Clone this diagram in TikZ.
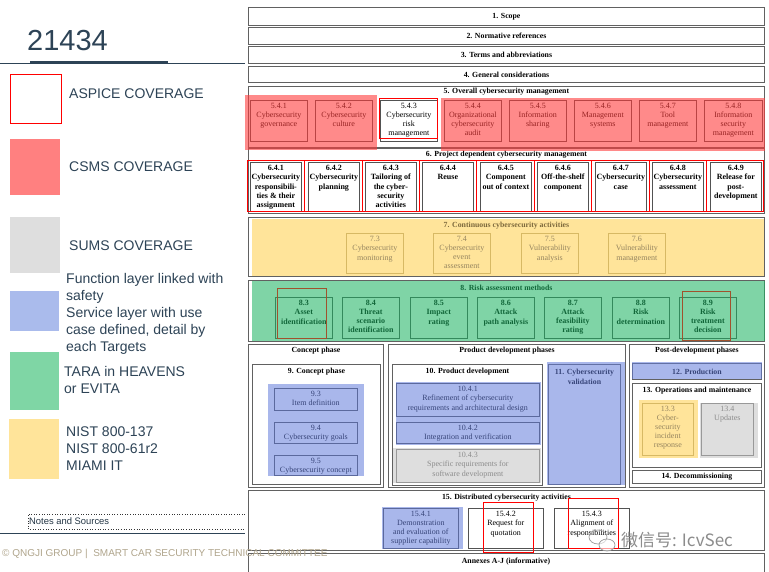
\documentclass[tikz,border=0pt]{standalone}
\usepackage{fontspec}
\setmainfont{Liberation Serif}
\newfontfamily\lsans{Liberation Sans}
\newfontfamily\cjk{Noto Sans CJK SC}
\usetikzlibrary{calc}
\definecolor{slate}{RGB}{45,67,86}
\definecolor{csmsleg}{RGB}{255,128,128}
\definecolor{csmsov}{RGB}{255,60,60}
\definecolor{sumsleg}{RGB}{222,222,222}
\definecolor{bluleg}{RGB}{170,187,236}
\definecolor{bluov}{RGB}{100,125,220}
\definecolor{grnleg}{RGB}{127,214,165}
\definecolor{grnov}{RGB}{30,180,100}
\definecolor{yelleg}{RGB}{255,228,154}
\definecolor{tanline}{RGB}{215,185,100}
\definecolor{tantext}{RGB}{150,133,95}
\definecolor{tanhead}{RGB}{125,105,60}
\definecolor{brownln}{RGB}{160,82,45}
\definecolor{foot}{RGB}{176,165,140}
\tikzset{
  sec/.style={draw=black!62,line width=0.9pt,inner sep=0pt},
  bx/.style={draw=black!68,line width=0.7pt,inner sep=0pt},
  bt/.style={inner sep=0pt,align=center,font=\fontsize{8}{9.3}\selectfont},
  bold/.style={font=\bfseries\fontsize{8}{9.3}\selectfont},
  boldtight/.style={font=\bfseries\fontsize{8}{9}\selectfont},
  tight/.style={font=\fontsize{8}{8.9}\selectfont},
  hd/.style={inner sep=0pt,align=center,font=\bfseries\fontsize{7.8}{9.4}\selectfont},
  leg/.style={inner sep=0pt,anchor=west,align=left,text=slate,font=\lsans\fontsize{14}{17}\selectfont},
  aspice/.style={draw=red,line width=1pt},
  brownbox/.style={draw=brownln,line width=0.9pt},
  fadebox/.style={draw=tanline},
  fadetext/.style={text=tantext},
  graybox/.style={draw=black!40},
  graytext/.style={text=black!45}
}
% box: #1 box opts, #2 text opts, #3 name, #4 x, #5 y, #6 w, #7 h, #8 text
\newcommand\bx[8]{%
  \node[bx,#1,minimum width=#6pt,minimum height=#7pt,anchor=north west] (#3) at (#4,#5) {};
  \node[bt,#2,anchor=north] (#3t) at ([yshift=-3pt]#3.north) {#8};}
\begin{document}
\begin{tikzpicture}[x=1pt,y=-1pt]
\useasboundingbox (0,0) rectangle (769,572);
\fill[white] (0,0) rectangle (769,572);

% ---------------- legend ----------------
\node[inner sep=0pt,anchor=west,text=slate,font=\lsans\fontsize{29}{32}\selectfont] (title) at (27,41) {21434};
\draw[slate,line width=0.8pt] (0,63) -- (245,63);
\fill[slate] (30,61) rectangle (168,64.5);

\draw[aspice] (10,75) rectangle (61,124);
\node[leg] (l1) at (69,94) {ASPICE COVERAGE};
\fill[csmsleg] (10,139) rectangle (60,195);
\node[leg] (l2) at (69,167) {CSMS COVERAGE};
\fill[sumsleg] (10,217) rectangle (60,273);
\node[leg] (l3) at (69,246) {SUMS COVERAGE};
\fill[bluleg] (10,291) rectangle (59,331);
\node[leg] (l4) at (66,313.5) {Function layer linked with\\safety\\Service layer with use\\case defined, detail by\\each Targets};
\fill[grnleg] (10,352) rectangle (59,410);
\node[leg] (l5) at (64,379.5) {TARA in HEAVENS\\or EVITA};
\fill[yelleg] (9,419) rectangle (59,479);
\node[leg] (l6) at (66,448.5) {NIST 800-137\\NIST 800-61r2\\MIAMI IT};

\draw[black!80,dotted,line width=0.6pt] (245,514) -- (28,514) -- (28,529) -- (245,529);
\node[inner sep=0pt,anchor=west,text=slate!80!black,font=\lsans\fontsize{9.4}{11}\selectfont] (notes) at (29,521.5) {Notes and Sources};
\draw[slate,line width=0.9pt] (0,533) -- (245,533);

% ---------------- top rows ----------------
\node[sec,minimum width=516pt,minimum height=18pt,anchor=north west] (s1) at (248,7) {};
\node[hd] (s1t) at (s1.center) {1. Scope};
\node[sec,minimum width=516pt,minimum height=17pt,anchor=north west] (s2) at (248,27) {};
\node[hd] (s2t) at (s2.center) {2. Normative references};
\node[sec,minimum width=516pt,minimum height=17pt,anchor=north west] (s3) at (248,46) {};
\node[hd] (s3t) at (s3.center) {3. Terms and abbreviations};
\node[sec,minimum width=516pt,minimum height=16pt,anchor=north west] (s4) at (248,66) {};
\node[hd] (s4t) at (s4.center) {4. General considerations};

% ---------------- section 5 ----------------
\node[sec,minimum width=516pt,minimum height=61pt,anchor=north west] (s5) at (248,86) {};
\node[hd] (s5t) at ([yshift=-6pt]s5.north) {5. Overall cybersecurity management};
\bx{}{tight}{b541}{250}{100}{57}{41}{5.4.1\\Cybersecurity\\governance}
\bx{}{tight}{b542}{315}{100}{57}{41}{5.4.2\\Cybersecurity\\culture}
\bx{}{tight}{b543}{380}{100}{57}{41}{5.4.3\\Cybersecurity\\risk\\management}
\bx{}{tight}{b544}{444}{100}{57}{41}{5.4.4\\Organizational\\cybersecurity\\audit}
\bx{}{tight}{b545}{509}{100}{57}{41}{5.4.5\\Information\\sharing}
\bx{}{tight}{b546}{574}{100}{57}{41}{5.4.6\\Management\\systems}
\bx{}{tight}{b547}{639}{100}{57}{41}{5.4.7\\Tool\\management}
\bx{}{tight}{b548}{704}{100}{58}{41}{5.4.8\\Information\\security\\management}

% ---------------- section 6 ----------------
\node[sec,minimum width=516pt,minimum height=65pt,anchor=north west] (s6) at (248,148) {};
\node[hd] (s6t) at ([yshift=-7pt]s6.north) {6. Project dependent cybersecurity management};
\bx{}{bold}{b641}{250}{162}{51}{49}{6.4.1\\Cybersecurity\\responsibili-\\ties \& their\\assignment}
\bx{}{bold}{b642}{308}{162}{51}{49}{6.4.2\\Cybersecurity\\planning}
\bx{}{bold}{b643}{365}{162}{51}{49}{6.4.3\\Tailoring of\\the cyber-\\security\\activities}
\bx{}{bold}{b644}{422}{162}{51}{49}{6.4.4\\Reuse}
\bx{}{bold}{b645}{480}{162}{51}{49}{6.4.5\\Component\\out of context}
\bx{}{bold}{b646}{537}{162}{51}{49}{6.4.6\\Off-the-shelf\\component}
\bx{}{bold}{b647}{595}{162}{51}{49}{6.4.7\\Cybersecurity\\case}
\bx{}{bold}{b648}{652}{162}{51}{49}{6.4.8\\Cybersecurity\\assessment}
\bx{}{bold}{b649}{710}{162}{51}{49}{6.4.9\\Release for\\post-\\development}

% ---------------- section 7 ----------------
\fill[yelleg] (252,219) rectangle (765,277);
\node[sec,minimum width=516pt,minimum height=59pt,anchor=north west] (s7) at (248,217) {};
\node[hd,text=tanhead] (s7t) at ([yshift=-9pt]s7.north) {7. Continuous cybersecurity activities};
\bx{fadebox}{fadetext}{b73}{346}{233}{57}{40}{7.3\\Cybersecurity\\monitoring}
\bx{fadebox}{fadetext,tight}{b74}{433}{233}{57}{40}{7.4\\Cybersecurity\\event\\assessment}
\bx{fadebox}{fadetext}{b75}{521}{233}{57}{40}{7.5\\Vulnerability\\analysis}
\bx{fadebox}{fadetext}{b76}{608}{233}{57}{40}{7.6\\Vulnerability\\management}

% ---------------- section 8 ----------------
\node[sec,minimum width=516pt,minimum height=61pt,anchor=north west] (s8) at (248,280) {};
\node[hd] (s8t) at ([yshift=-8pt]s8.north) {8. Risk assessment methods};
\bx{}{bold}{b83}{275}{297}{57}{41}{8.3\\Asset\\identification}
\bx{}{boldtight}{b84}{342}{297}{57}{41}{8.4\\Threat\\scenario\\identification}
\bx{}{bold}{b85}{410}{297}{57}{41}{8.5\\Impact\\rating}
\bx{}{bold}{b86}{477}{297}{57}{41}{8.6\\Attack\\path analysis}
\bx{}{boldtight}{b87}{544}{297}{57}{41}{8.7\\Attack\\feasibility\\rating}
\bx{}{bold}{b88}{612}{297}{57}{41}{8.8\\Risk\\determination}
\bx{}{boldtight}{b89}{679}{297}{57}{41}{8.9\\Risk\\treatment\\decision}

% ---------------- phases ----------------
\node[sec,minimum width=135pt,minimum height=143pt,anchor=north west] (conc) at (248,344) {};
\node[hd] (conct) at ([yshift=-7pt]conc.north) {Concept phase};
\node[sec,minimum width=128pt,minimum height=120pt,anchor=north west] (concin) at (252,364) {};
\node[hd] (concint) at ([yshift=-8pt]concin.north) {9. Concept phase};
\bx{}{}{b93}{274}{388}{83}{22}{9.3\\Item definition}
\bx{}{}{b94}{274}{422}{83}{21}{9.4\\Cybersecurity goals}
\bx{}{}{b95}{274}{455}{83}{20}{9.5\\Cybersecurity concept}

\node[sec,minimum width=237pt,minimum height=143pt,anchor=north west] (prod) at (388,344) {};
\node[hd] (prodt) at ([yshift=-7pt]prod.north) {Product development phases};
\node[sec,minimum width=150pt,minimum height=121pt,anchor=north west] (prodin) at (392,364) {};
\node[hd] (prodint) at ([yshift=-8pt]prodin.north) {10. Product development};
\bx{}{}{b1041}{396}{383}{143}{33}{10.4.1\\Refinement of cybersecurity\\requirements and architectural design}
\bx{}{}{b1042}{396}{422}{143}{21}{10.4.2\\Integration and verification}
\fill[sumsleg] (393,448) rectangle (541,483);
\bx{graybox}{graytext}{b1043}{396}{449}{143}{33}{10.4.3\\Specific requirements for\\software development}
\node[sec,minimum width=72pt,minimum height=120pt,anchor=north west] (val) at (548,364) {};
\node[hd] (valt) at ([yshift=-13pt]val.north) {11. Cybersecurity\\validation};

\node[sec,minimum width=135pt,minimum height=143pt,anchor=north west] (post) at (629,344) {};
\node[hd] (postt) at ([yshift=-7pt]post.north) {Post-development phases};
\node[sec,minimum width=129pt,minimum height=16pt,anchor=north west] (p12) at (632,363) {};
\node[hd] (p12t) at (p12.center) {12. Production};
\node[sec,minimum width=129pt,minimum height=84pt,anchor=north west] (p13) at (632,383) {};
\node[hd] (p13t) at ([yshift=-8pt]p13.north) {13. Operations and maintenance};
\fill[yelleg] (639,400) rectangle (698,458);
\bx{fadebox}{fadetext,font=\fontsize{8}{9}\selectfont}{b133}{642}{403}{51}{52}{13.3\\Cyber-\\security\\incident\\response}
\fill[sumsleg] (700,403) rectangle (758,458);
\bx{graybox}{graytext}{b134}{701}{403}{52}{52}{13.4\\Updates}
\node[sec,minimum width=129pt,minimum height=13pt,anchor=north west] (p14) at (632,470) {};
\node[hd] (p14t) at (p14.center) {14. Decommissioning};

% ---------------- section 15 ----------------
\node[sec,minimum width=516pt,minimum height=60pt,anchor=north west] (s15) at (248,490) {};
\node[hd] (s15t) at ([yshift=-8pt]s15.north) {15. Distributed cybersecurity activities};
\bx{}{font=\fontsize{8}{9}\selectfont}{b1541}{383}{508}{75}{40}{15.4.1\\Demonstration\\and evaluation of\\supplier capability}
\bx{}{}{b1542}{468}{508}{75}{40}{15.4.2\\Request for\\quotation}
\bx{}{}{b1543}{554}{508}{75}{40}{15.4.3\\Alignment of\\responsibilities}
\node[sec,minimum width=516pt,minimum height=24pt,anchor=north west] (ann) at (248,553) {};
\node[hd] (annt) at (506,562) {Annexes A-J (informative)};

% ---------------- coverage overlays ----------------
\fill[csmsov,fill opacity=0.6] (245,95) rectangle (377,150);
\fill[csmsov,fill opacity=0.6] (441,98) rectangle (765,151);
\fill[grnov,fill opacity=0.57] (252,281) rectangle (765,341);
\fill[bluov,fill opacity=0.55] (268,384) rectangle (364,476);
\fill[bluov,fill opacity=0.55] (396,382) rectangle (541,445);
\fill[bluov,fill opacity=0.55] (547,362) rectangle (625,485);
\fill[bluov,fill opacity=0.55] (632,362) rectangle (762,379);
\fill[bluov,fill opacity=0.55] (382,507) rectangle (463,549);

% ---------------- ASPICE outlines ----------------
\draw[aspice] (379,99) rectangle (437,139);
\draw[aspice] (247,161) rectangle (763,212);
\foreach \gx in {304.5,362,419,476.5,534,591.5,649,706.5}
  \draw[aspice] (\gx,161) -- (\gx,212);
\draw[brownbox] (277,288) rectangle (326,338);
\draw[brownbox] (682,291) rectangle (730,340);
\draw[aspice] (483,502) rectangle (533,552);
\draw[aspice] (568,498) rectangle (618,548);

% ---------------- watermark ----------------
\draw[black!40,line width=0.7pt] (598,537) ellipse (9pt and 7pt);
\draw[black!40,line width=0.7pt,fill=white,fill opacity=0.6] (607,545) ellipse (8pt and 6pt);
\node[inner sep=0pt,anchor=west,text=black!45,font=\cjk\fontsize{17}{20}\selectfont] (wm) at (621,540) {微信号: IcvSec};

% ---------------- footer ----------------
\node[inner sep=0pt,anchor=west,text=foot,font=\lsans\fontsize{10}{12}\selectfont] (foot) at (2,554) {© QNGJI GROUP |\ \ SMART CAR SECURITY TECHNICAL COMMITTEE};
\end{tikzpicture}
\end{document}
